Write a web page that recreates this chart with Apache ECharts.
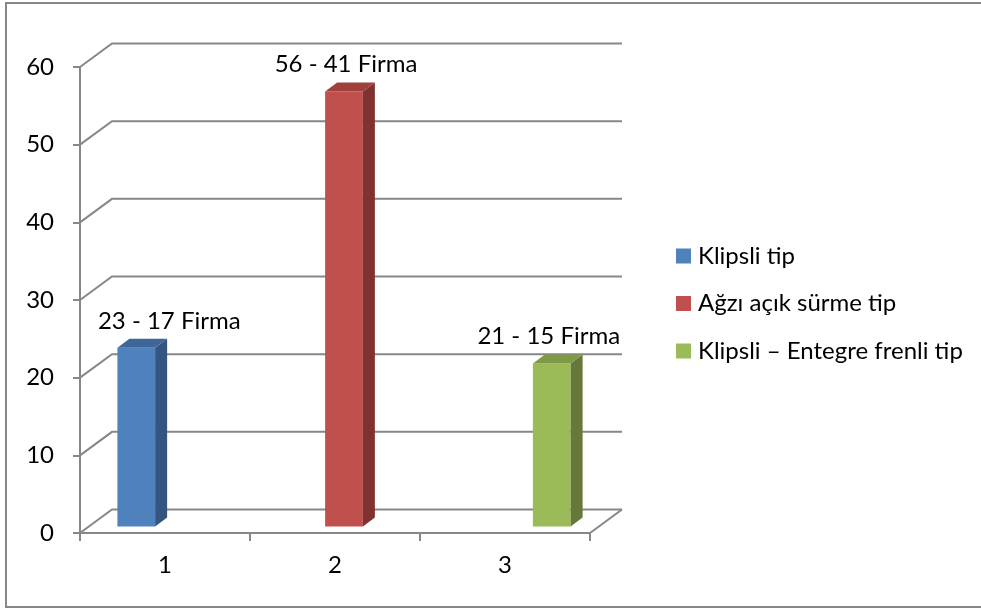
<!DOCTYPE html>
<html>
<head>
<meta charset="utf-8">
<script src="https://cdn.jsdelivr.net/npm/echarts@6/dist/echarts.min.js"></script>
<style>
  html, body { margin: 0; padding: 0; background: #fff; }
  #chart { width: 981px; height: 610px; }
</style>
</head>
<body>
<div id="chart"></div>
<script>
// Category labels and value-axis ticks
const categories = ['1', '2', '3'];
const yTicks = [0, 10, 20, 30, 40, 50, 60];

// One series per clip type; each occupies its own category
const seriesNames = ['Klipsli tip', 'Ağzı açık sürme tip', 'Klipsli – Entegre frenli tip'];
const klipsliTip = [23, null, null];
const agziAcikSurmeTip = [null, 56, null];
const klipsliEntegreTip = [null, null, 21];
// Number of firms behind each count, shown in the labels
const klipsliFirma = [17, null, null];
const agziAcikFirma = [null, 41, null];
const klipsliEntegreFirma = [null, null, 15];

const seriesValues = [klipsliTip, agziAcikSurmeTip, klipsliEntegreTip];
const seriesFirms = [klipsliFirma, agziAcikFirma, klipsliEntegreFirma];

// Colours: front face, side face, top face
const palette = [
  { front: '#4F81BD', side: '#34557F', top: '#3E6799' },
  { front: '#C0504D', side: '#7F3230', top: '#A0403D' },
  { front: '#9BBB59', side: '#67793A', top: '#7F9A46' }
];

const FONT = 'Lato, "Open Sans", sans-serif';
const GRID_COLOR = '#878787';

// Oblique projection of the 3D box
const WALL_DX = 32, WALL_DY = -23.5;   // full depth of the plot box
const BAR_OFF_DX = 9, BAR_OFF_DY = -6.5; // bar front face behind the front plane
const BAR_DX = 12, BAR_DY = -9;        // bar depth
const LABEL_SHIFT = [33, 2, -3];

function gridRender(params, api) {
  const cs = params.coordSys;
  const v = api.value(1);
  const y = api.coord([0, v])[1];
  const x0 = cs.x, x1 = cs.x + cs.width;
  const children = [{
    type: 'polyline',
    shape: { points: [[x0, y], [x0 + WALL_DX, y + WALL_DY], [x1 + WALL_DX, y + WALL_DY]] },
    style: { stroke: GRID_COLOR, lineWidth: 2, fill: null }
  }];
  if (v === 0) {
    children.push({
      type: 'line',
      shape: { x1: x1, y1: y, x2: x1 + WALL_DX, y2: y + WALL_DY },
      style: { stroke: GRID_COLOR, lineWidth: 2 }
    });
  }
  return { type: 'group', children: children };
}

function makeBarRender(si) {
  return function (params, api) {
    const cat = api.value(0);
    const val = api.value(1);
    const firms = api.value(2);
    const band = api.size([1, 0])[0];
    const barW = band * 0.222;
    const base = api.coord([cat, 0]);
    const topPt = api.coord([cat, val]);
    const cx = base[0] + (si - 1) * barW + BAR_OFF_DX;
    const left = cx - barW / 2, right = cx + barW / 2;
    const bottom = base[1] + BAR_OFF_DY, top = topPt[1] + BAR_OFF_DY;
    const c = palette[si];
    return {
      type: 'group',
      children: [
        { type: 'rect', shape: { x: left, y: top, width: barW, height: bottom - top },
          style: { fill: c.front } },
        { type: 'polygon', shape: { points: [[right, top], [right + BAR_DX, top + BAR_DY], [right + BAR_DX, bottom + BAR_DY], [right, bottom]] },
          style: { fill: c.side } },
        { type: 'polygon', shape: { points: [[left, top], [left + BAR_DX, top + BAR_DY], [right + BAR_DX, top + BAR_DY], [right, top]] },
          style: { fill: c.top } },
        { type: 'text', x: cx + LABEL_SHIFT[si], y: top - 27,
          style: { text: val + ' - ' + firms + ' Firma', font: '24px ' + FONT, fill: '#000',
                   align: 'center', verticalAlign: 'middle' } }
      ]
    };
  };
}

const chart = echarts.init(document.getElementById('chart'), null, { renderer: 'canvas' });

const series = [{
  type: 'custom',
  name: 'grid',
  renderItem: gridRender,
  data: yTicks.map(v => [0, v]),
  silent: true,
  z: 1
}];

seriesValues.forEach((vals, si) => {
  const data = [];
  vals.forEach((v, ci) => { if (v !== null) data.push([ci, v, seriesFirms[si][ci]]); });
  series.push({
    type: 'custom',
    name: seriesNames[si],
    renderItem: makeBarRender(si),
    data: data,
    encode: { x: 0, y: 1 },
    itemStyle: { color: palette[si].front },
    z: 3
  });
});

chart.setOption({
  animation: false,
  backgroundColor: '#fff',
  grid: { left: 80, top: 67, width: 510, height: 466 },
  xAxis: {
    type: 'category',
    data: categories,
    boundaryGap: true,
    axisLine: { show: true, lineStyle: { color: GRID_COLOR, width: 2 } },
    axisTick: { show: true, length: 8, interval: 0, lineStyle: { color: GRID_COLOR, width: 2 } },
    axisLabel: { color: '#000', fontSize: 24, fontFamily: FONT, margin: 20 },
    splitLine: { show: false },
    z: 5
  },
  yAxis: {
    type: 'value',
    min: 0, max: 60, interval: 10,
    axisLine: { show: true, lineStyle: { color: GRID_COLOR, width: 2 } },
    axisTick: { show: true, length: 7, lineStyle: { color: GRID_COLOR, width: 2 } },
    axisLabel: { color: '#000', fontSize: 24, fontFamily: FONT, margin: 26 },
    splitLine: { show: false },
    z: 5
  },
  legend: {
    orient: 'vertical',
    left: 671, top: 239,
    itemWidth: 15, itemHeight: 15, itemGap: 23.5,
    icon: 'rect',
    data: seriesNames,
    textStyle: { color: '#000', fontSize: 24, fontFamily: FONT, padding: [0, 0, 0, 2] }
  },
  graphic: [{
    type: 'rect',
    shape: { x: 6, y: 3, width: 985, height: 604 },
    style: { fill: null, stroke: '#878787', lineWidth: 2 },
    silent: true
  }],
  series: series
});
</script>
</body>
</html>
